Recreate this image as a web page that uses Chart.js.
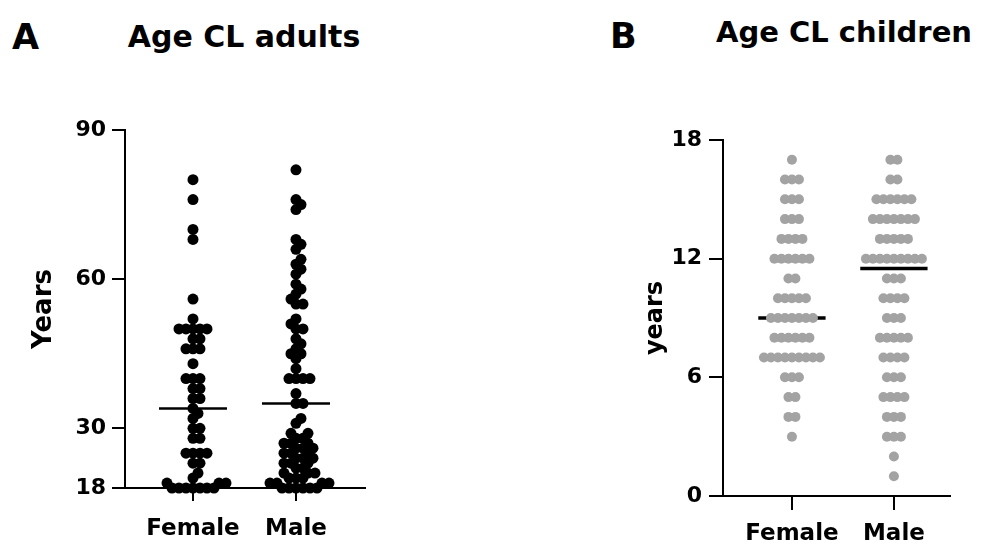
<!DOCTYPE html>
<html>
<head>
<meta charset="utf-8">
<script src="https://cdn.jsdelivr.net/npm/chart.js@4/dist/chart.umd.min.js"></script>
<style>
body{margin:0;background:#fff;width:989px;height:543px;position:relative;overflow:hidden}
canvas{position:absolute;top:0}
.letter{position:absolute;font:bold 35px "DejaVu Sans",sans-serif;line-height:35px;color:#000}
.title{position:absolute;transform:translateX(-50%);white-space:nowrap;font-family:"DejaVu Sans",sans-serif;font-weight:bold;color:#000}
</style>
</head>
<body>
<div class="letter" style="left:12px;top:20px">A</div>
<div class="letter" style="left:610px;top:19px">B</div>
<div class="title" style="left:244px;top:22px;font-size:30px;line-height:30px">Age CL adults</div>
<div class="title" style="left:844px;top:18px;font-size:29px;line-height:29px">Age CL children</div>
<canvas id="chartA" style="left:0" width="400" height="543"></canvas>
<canvas id="chartB" style="left:600px" width="389" height="543"></canvas>
<script>

// data
const groups=["Female","Male"];

const adultsFemale=[
    80,76,70,68,56,52,50,50,50,50,50,48,48,46,46,46,43,40,40,40,
    38,38,36,36,34,33,32,30,30,28,28,25,25,25,25,23,23,21,20,
    19,19,19,18,18,18,18,18,18,18
];
const adultsMale=[
    82,76,75,74,68,67,66,64,63,62,61,59,58,57,56,55,55,52,51,50,50,
    48,47,46,45,45,44,42,40,40,40,40,37,35,35,32,31,29,29,28,28,27,27,27,
    26,26,26,25,25,25,24,24,24,23,23,23,22,22,21,21,21,20,20,20,19,19,19,19,
    18,18,18,18,18,18
];
const adultsMedian=[34,35];
const adultsTicks=[18,30,60,90];

const childrenFemale=[
    17,16,16,16,15,15,15,14,14,14,13,13,13,13,12,12,12,12,12,12,
    11,11,10,10,10,10,10,9,9,9,9,9,9,9,8,8,8,8,8,8,
    7,7,7,7,7,7,7,7,7,6,6,6,5,5,4,4,3
];
const childrenMale=[
    17,17,16,16,15,15,15,15,15,15,14,14,14,14,14,14,14,13,13,13,13,13,
    12,12,12,12,12,12,12,12,12,11,11,11,10,10,10,10,9,9,9,
    8,8,8,8,8,7,7,7,7,6,6,6,5,5,5,5,4,4,4,3,3,3,2,1
];
const childrenMedian=[9,11.5];
const childrenTicks=[0,6,12,18];

const FONT="DejaVu Sans";


// centred rows, one row per integer value
function rowOffsets(values,pxPerUnit,gap){
    let count={},seen={};
    values.forEach(v=>count[v]=(count[v]||0)+1);
    return values.map(v=>{
        seen[v]=(seen[v]??-1)+1;
        return (seen[v]-(count[v]-1)/2)*gap/pxPerUnit;
    });
}

// simple beeswarm in pixel space
function swarmOffsets(values,xPx,yPx,gap){
    let placed=[];
    return values.map(v=>{
        let y=v*yPx;
        for(let k=0;;k++){
            let dx=(k%2?1:-1)*Math.ceil(k/2);
            if(placed.every(p=>(p.x-dx)**2+(p.y-y)**2>=gap*gap)){
                placed.push({x:dx,y:y});
                return dx/xPx;
            }
        }
    });
}

function dots(valueLists,offsetFn,color,radius){
    return valueLists.map((vals,i)=>{
        let sorted=vals.slice().sort((a,b)=>a-b);
        let off=offsetFn(sorted);
        return {
            type:"scatter",
            data:sorted.map((v,j)=>({x:i+off[j],y:v})),
            pointRadius:radius,
            pointHoverRadius:radius,
            pointBackgroundColor:color,
            pointBorderWidth:0,
            clip:false
        };
    });
}

function medianLines(medians,halfWidth,width){
    return medians.map((m,i)=>({
        type:"line",
        data:[{x:i-halfWidth,y:m},{x:i+halfWidth,y:m}],
        borderColor:"#000",
        borderWidth:width,
        pointRadius:0,
        clip:false
    }));
}

function axisStyle(tickLength){
    return {
        grid:{
            display:true,
            drawOnChartArea:false,
            drawTicks:true,
            tickLength:tickLength,
            color:"#000",
            lineWidth:2
        },
        border:{display:true,color:"#000",width:2}
    };
}

function drawDotChart(id,c){
    return new Chart(
        document.getElementById(id),
        {
            data:{datasets:[...c.dots,...c.lines]},
            options:{
                responsive:false,
                animation:false,
                devicePixelRatio:1,
                events:[],
                layout:{padding:{left:0,right:c.padRight,top:c.top,bottom:0}},
                plugins:{
                    legend:{display:false},
                    tooltip:{enabled:false}
                },
                scales:{
                    x:{
                        type:"linear",
                        min:c.xMin,
                        max:c.xMax,
                        afterBuildTicks:s=>{s.ticks=groups.map((g,i)=>({value:i}));},
                        afterFit:s=>{s.height=c.xHeight;},
                        ticks:{
                            callback:(v,i)=>groups[i],
                            color:"#000",
                            font:{family:FONT,size:23,weight:"bold"},
                            padding:c.xPad,
                            maxRotation:0,
                            autoSkip:false
                        },
                        ...axisStyle(c.tick)
                    },
                    y:{
                        type:"linear",
                        min:c.ticks[0],
                        max:c.ticks[c.ticks.length-1],
                        afterBuildTicks:s=>{s.ticks=c.ticks.map(v=>({value:v}));},
                        afterFit:s=>{s.width=c.yWidth;},
                        title:{
                            display:true,
                            text:c.yTitle,
                            color:"#000",
                            font:{family:FONT,size:c.yTitleSize,weight:"bold"},
                            padding:{top:c.yTitlePad,bottom:0}
                        },
                        ticks:{
                            color:"#000",
                            font:{family:FONT,size:22,weight:"bold"},
                            padding:c.yPad
                        },
                        ...axisStyle(c.tick)
                    }
                }
            }
        }
    );
}


drawDotChart("chartA",{
    yTitle:"Years",
    ticks:adultsTicks,
    dots:dots([adultsFemale,adultsMale],v=>swarmOffsets(v,103,4.97,7),"#000",5.5),
    lines:medianLines(adultsMedian,0.33,2.5),
    xMin:-0.66,xMax:1.67,
    padRight:35,top:130,
    xHeight:55,yWidth:125,
    xPad:14,yPad:6,tick:13,
    yTitleSize:26,yTitlePad:29
});

drawDotChart("chartB",{
    yTitle:"years",
    ticks:childrenTicks,
    dots:dots([childrenFemale,childrenMale],v=>rowOffsets(v,102,7),"#a3a3a3",5),
    lines:medianLines(childrenMedian,0.33,3.5),
    xMin:-0.676,xMax:1.55,
    padRight:39,top:140,
    xHeight:47,yWidth:123,
    xPad:10,yPad:7,tick:14,
    yTitleSize:24,yTitlePad:41
});
</script>
</body>
</html>
